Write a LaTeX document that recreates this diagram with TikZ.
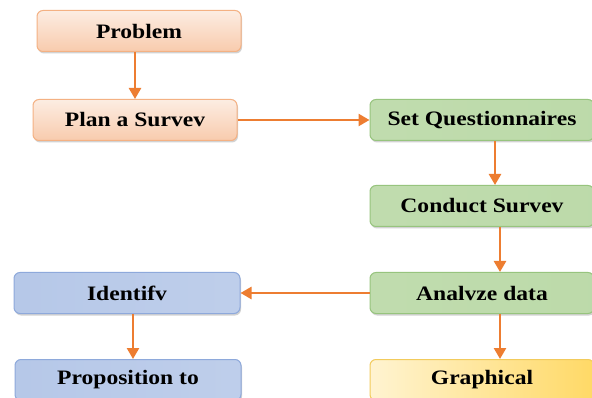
\documentclass[tikz,border=0pt]{standalone}
\usepackage{fontspec}
\setmainfont{Liberation Serif}
\usetikzlibrary{shadows,arrows.meta}
\definecolor{arr}{HTML}{ED7D31}
\definecolor{orF}{HTML}{F8CBAD}
\definecolor{orB}{HTML}{F4B183}
\definecolor{grF}{HTML}{B5D6A0}
\definecolor{grB}{HTML}{97C47E}
\definecolor{blF}{HTML}{A9BEE4}
\definecolor{blB}{HTML}{8EA9DB}
\definecolor{yeF}{HTML}{FFD966}
\definecolor{yeB}{HTML}{F2CB5C}
\newcommand\bxt[1]{\scalebox{1.15}[1]{\bfseries #1}}
\tikzset{
  x=1pt,y=1pt,
  box/.style={rounded corners=6pt, minimum height=41pt, inner sep=0pt,
    font=\fontsize{20.5}{22}\selectfont, line width=1pt,
    drop shadow={shadow xshift=1pt,shadow yshift=-2pt,opacity=0.35,fill=black!50}},
  orbox/.style={box, draw=orB, top color=orF!35, bottom color=orF},
  grbox/.style={box, draw=grB, left color=grF!85, middle color=grF!30, right color=grF!90},
  blbox/.style={box, draw=blB, left color=blF!85, middle color=blF!35, right color=blF!75},
  yebox/.style={box, draw=yeB, left color=yeF!30, middle color=yeF!60, right color=yeF},
  conn/.style={draw=arr, line width=2.5pt, -{Triangle[length=11pt,width=12pt]}}
}
\begin{document}
\begin{tikzpicture}
\useasboundingbox (0,0) rectangle (592,-398);
\fill[white] (0,0) rectangle (592,-398);
\node[orbox, minimum width=204pt] (prob) at (139,-31) {\bxt{Problem}};
\node[orbox, minimum width=204pt] (plan) at (135,-120) {\bxt{Plan a Survev}};
\node[grbox, minimum width=224pt] (setq) at (482,-120) {\bxt{Set Questionnaires}};
\node[grbox, minimum width=224pt] (cond) at (482,-206) {\bxt{Conduct Survev}};
\node[grbox, minimum width=224pt] (anal) at (482,-293) {\bxt{Analvze data}};
\node[blbox, minimum width=226pt] (iden) at (127,-293) {\bxt{Identifv}};
\node[blbox, minimum width=226pt] (prop) at (128,-380) {\bxt{Proposition to}};
\node[yebox, minimum width=224pt] (grap) at (482,-380) {\bxt{Graphical}};
\draw[conn] (prob.south -| plan.north) -- (plan.north);
\draw[conn] (plan.east) -- (setq.west);
\draw[conn] ([xshift=13pt]setq.south) -- ([xshift=13pt]setq.south |- cond.north);
\draw[conn] ([xshift=18pt]cond.south) -- ([xshift=18pt]cond.south |- anal.north);
\draw[conn] (anal.west) -- (iden.east);
\draw[conn] ([xshift=6pt]iden.south) -- ([xshift=6pt]iden.south |- prop.north);
\draw[conn] ([xshift=18pt]anal.south) -- ([xshift=18pt]anal.south |- grap.north);
\end{tikzpicture}
\end{document}
